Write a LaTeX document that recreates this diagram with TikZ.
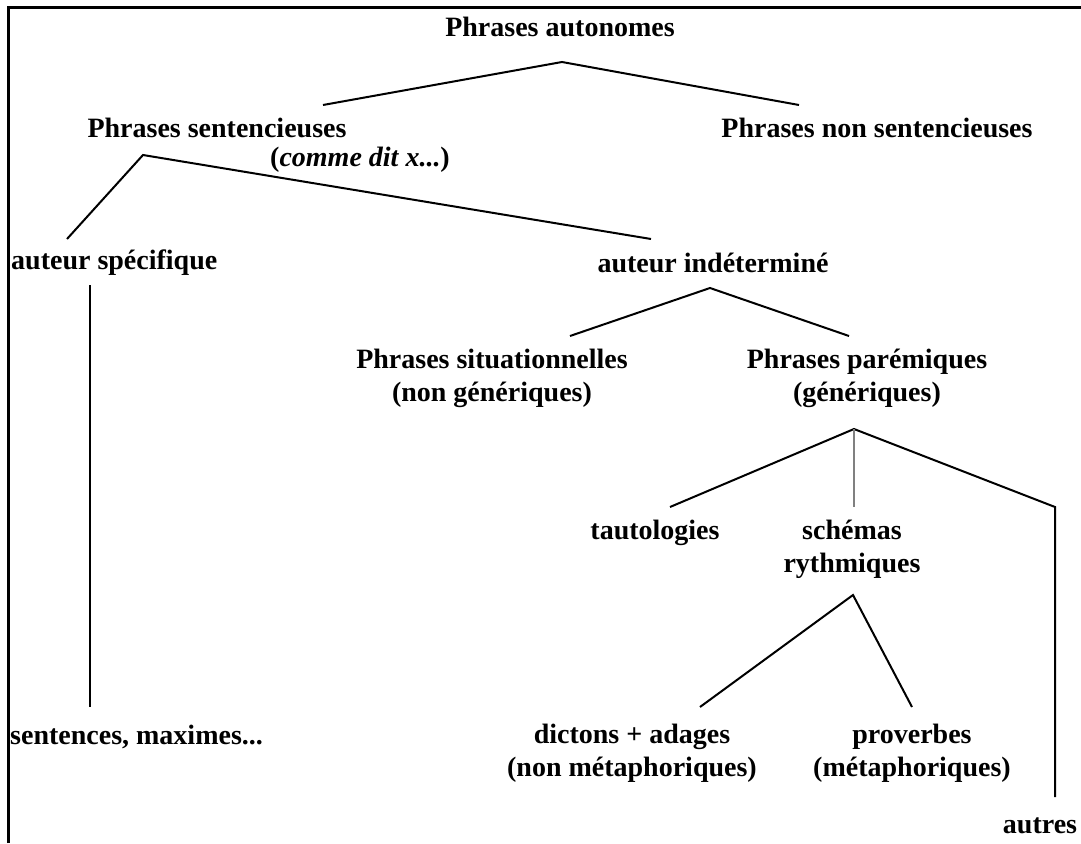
\documentclass[tikz,border=0pt]{standalone}
\usepackage{fontspec}
\setmainfont{Liberation Serif}
\begin{document}
\begin{tikzpicture}[x=1pt,y=-1pt,
  lbl/.style={font=\bfseries\fontsize{28}{33}\selectfont, inner sep=0pt, align=center},
  edge/.style={line width=2pt},
  grayedge/.style={line width=2.4pt, draw=gray}]
\useasboundingbox (0,0) rectangle (1081,843);
\draw[line width=3pt] (8,843) -- (8,8) -- (1081,8);

% nodes
\node[lbl] (root) at (560,27) {Phrases autonomes};
\node[lbl] (sent) at (217,128) {Phrases sentencieuses};
\node[lbl] (comme) at (360,160) {(\textit{comme dit x...})};
\node[lbl] (nonsent) at (877,128) {Phrases non sentencieuses};
\node[lbl, anchor=west] (spec) at (11,263) {auteur spécifique};
\node[lbl] (indet) at (713,263) {auteur indéterminé};
\node[lbl, anchor=west] (maximes) at (10,737) {sentences, maximes...};
\node[lbl] (situ) at (492,378) {Phrases situationnelles\\(non génériques)};
\node[lbl] (parem) at (867,378) {Phrases parémiques\\(génériques)};
\node[lbl] (tauto) at (655,533) {tautologies};
\node[lbl] (schemas) at (852,549) {schémas\\rythmiques};
\node[lbl] (dictons) at (632,753) {dictons + adages\\(non métaphoriques)};
\node[lbl] (prov) at (912,753) {proverbes\\(métaphoriques)};
\node[lbl] (autres) at (1040,826) {autres};

% apexes and ends
\coordinate (a0) at (562,62);
\coordinate (e0l) at (323,105);
\coordinate (e0r) at (799,105);
\coordinate (a1) at (143,155);
\coordinate (e1l) at (67,239);
\coordinate (e1r) at (651,239);
\coordinate (v1t) at (90,285);
\coordinate (v1b) at (90,707);
\coordinate (a2) at (710,288);
\coordinate (e2l) at (570,336);
\coordinate (e2r) at (849,336);
\coordinate (a3) at (854,429);
\coordinate (e3l) at (670,507);
\coordinate (e3m) at (854,507);
\coordinate (e3r) at (1055,507);
\coordinate (e3rb) at (1055,797);
\coordinate (a4) at (853,595);
\coordinate (e4l) at (700,707);
\coordinate (e4r) at (912,707);

% connectors
\draw[edge] (e0l) -- (a0) -- (e0r);
\draw[edge] (e1l) -- (a1) -- (e1r);
\draw[edge] (v1t) -- (v1b);
\draw[edge] (e2l) -- (a2) -- (e2r);
\draw[edge] (e3l) -- (a3) -- (e3r) -- (e3rb);
\draw[grayedge] (a3) -- (e3m);
\draw[edge] (e4l) -- (a4) -- (e4r);
\end{tikzpicture}
\end{document}
